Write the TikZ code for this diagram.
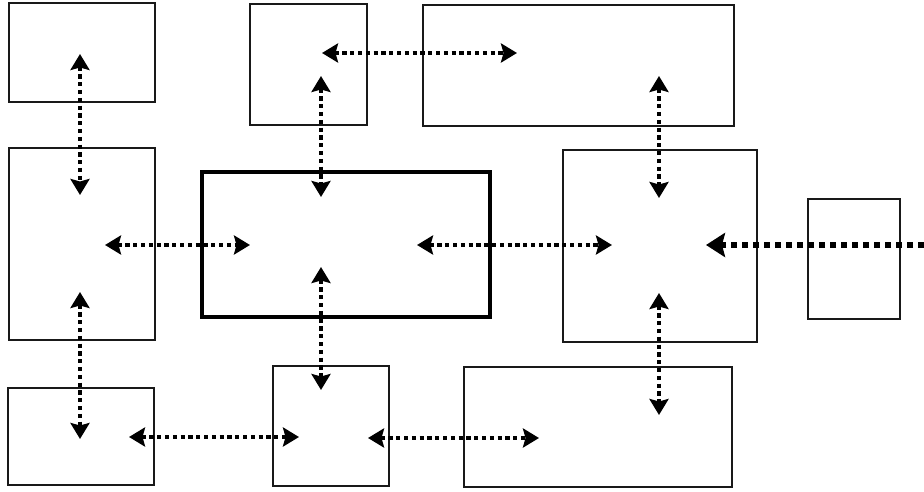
\documentclass[tikz,border=0pt]{standalone}
\usetikzlibrary{arrows.meta}
\begin{document}
\begin{tikzpicture}[x=1pt,y=-1pt,
  box/.style={draw=black!90,line width=2pt,inner sep=0pt,minimum width=#1},
  bx/.style 2 args={box=#1,minimum height=#2},
  link/.style={line width=4.4pt,dash pattern=on 4.2pt off 3.6pt,{Stealth[length=16pt,width=19pt,inset=2.5pt]}-{Stealth[length=16pt,width=19pt,inset=2.5pt]}},
  feed/.style={line width=6.5pt,dash pattern=on 6pt off 5pt,-{Stealth[length=19pt,width=24pt,inset=3pt]}}]
\useasboundingbox[fill=white] (0,0) rectangle (924,492);
% boxes
\node[bx={146pt}{99pt}]  (b1)  at (82,52.5)   {};
\node[bx={117pt}{121pt}] (b2)  at (308.5,64.5) {};
\node[bx={311pt}{121pt}] (b3)  at (578,65.5)  {};
\node[bx={146pt}{192pt}] (b4)  at (82,244)    {};
\node[bx={288pt}{145pt},line width=4pt,draw=black] (b5) at (346,244.5) {};
\node[bx={194pt}{192pt}] (b6)  at (660,246)   {};
\node[bx={92pt}{120pt}]  (b7)  at (854,259)   {};
\node[bx={146pt}{97pt}]  (b8)  at (81,436.5)  {};
\node[bx={116pt}{120pt}] (b9)  at (331,425.5) {};
\node[bx={268pt}{120pt}] (b10) at (598,427)   {};
% arrow end points
\coordinate (p14a) at (80,54);   \coordinate (p14b) at (80,195);
\coordinate (p23a) at (322,53);  \coordinate (p23b) at (517,53);
\coordinate (p25a) at (321,76);  \coordinate (p25b) at (321,197);
\coordinate (p36a) at (659,76);  \coordinate (p36b) at (659,198);
\coordinate (p45a) at (105,245); \coordinate (p45b) at (250,245);
\coordinate (p56a) at (417,245); \coordinate (p56b) at (612,245);
\coordinate (p76a) at (924,245); \coordinate (p76b) at (706,245);
\coordinate (p48a) at (80,292);  \coordinate (p48b) at (80,439);
\coordinate (p59a) at (321,267); \coordinate (p59b) at (321,390);
\coordinate (p610a) at (659,293); \coordinate (p610b) at (659,415);
\coordinate (p89a) at (129,437); \coordinate (p89b) at (299,437);
\coordinate (p910a) at (368,438); \coordinate (p910b) at (539,438);
% connectors
\draw[link] (p14a) -- (p14b);
\draw[link] (p23a) -- (p23b);
\draw[link] (p25a) -- (p25b);
\draw[link] (p36a) -- (p36b);
\draw[link] (p45a) -- (p45b);
\draw[link] (p56a) -- (p56b);
\draw[feed] (p76a) -- (p76b);
\draw[link] (p48a) -- (p48b);
\draw[link] (p59a) -- (p59b);
\draw[link] (p610a) -- (p610b);
\draw[link] (p89a) -- (p89b);
\draw[link] (p910a) -- (p910b);
\end{tikzpicture}
\end{document}
